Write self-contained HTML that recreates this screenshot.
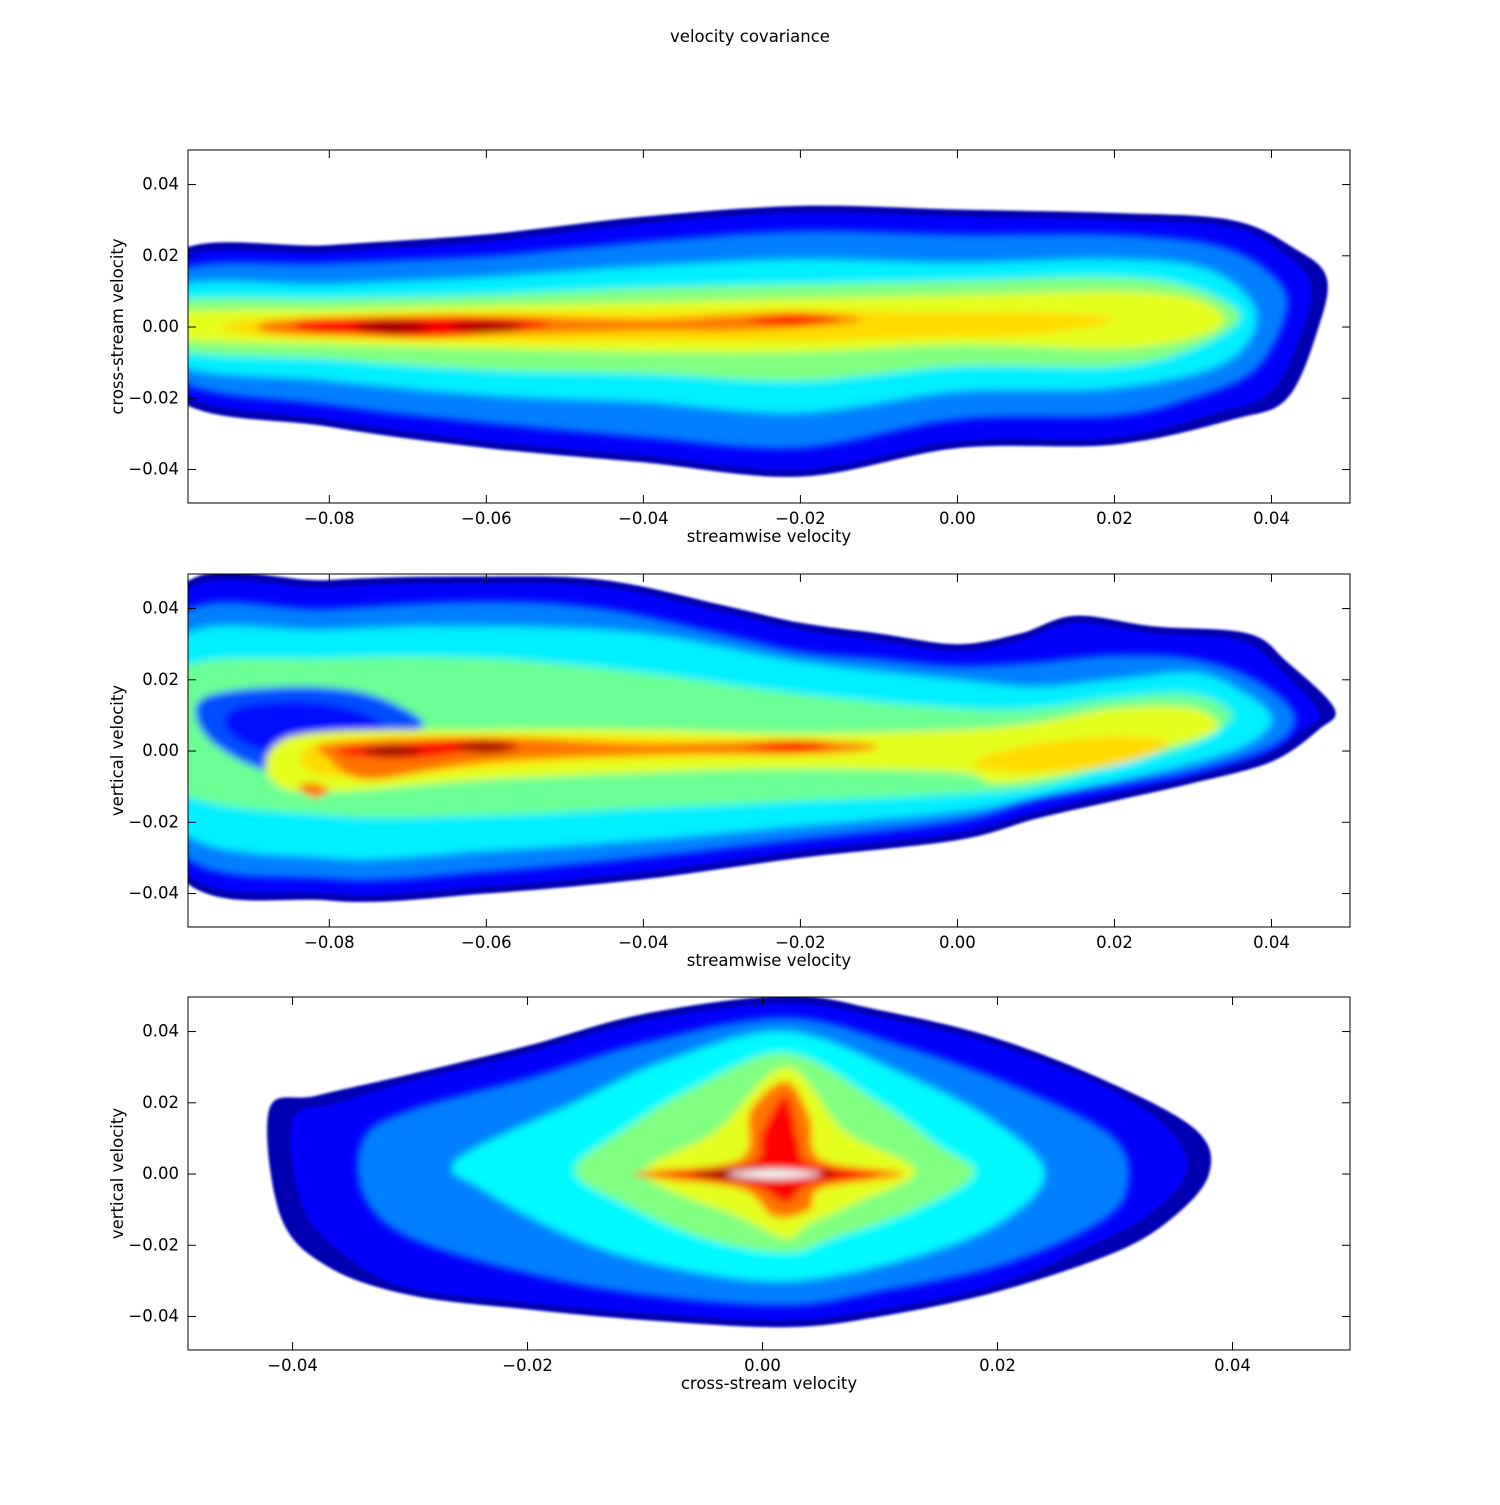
<!DOCTYPE html>
<html><head><meta charset="utf-8"><style>
html,body{margin:0;padding:0;background:#fff;}
svg text{font-family:"DejaVu Sans","Liberation Sans",sans-serif;font-size:16.5px;fill:#000;}
</style></head><body>
<svg id="fig" xmlns="http://www.w3.org/2000/svg" width="1500" height="1500" viewBox="0 0 1500 1500">
<rect width="1500" height="1500" fill="#fff"/>
<defs>
<filter id="blur" x="-10%" y="-10%" width="120%" height="120%"><feGaussianBlur stdDeviation="4"/></filter>
<filter id="blur2" x="-10%" y="-10%" width="120%" height="120%"><feGaussianBlur stdDeviation="1.2"/></filter>
</defs>
<text x="750" y="42" text-anchor="middle">velocity covariance</text>
</svg>
<script>
// ---------- data: density contour levels (jet colormap t), polygons in data coords ----------
const p1Levels = [0.05,0.12,0.25,0.36,0.5,0.6,0.66,0.76,0.87,0.87,0.97,0.97];
const p1Xs = [
 [-0.1,-0.08,-0.06,-0.04,-0.02,0,0.02,0.035,0.043,0.047,0.046,0.042,0.035,0.02,0,-0.02,-0.04,-0.06,-0.08,-0.1],
 [-0.1,-0.08,-0.06,-0.04,-0.02,0,0.02,0.035,0.042,0.045,0.044,0.040,0.033,0.02,0,-0.02,-0.04,-0.06,-0.08,-0.1],
 [-0.1,-0.08,-0.06,-0.04,-0.02,0,0.02,0.033,0.04,0.042,0.038,0.03,0.02,0,-0.02,-0.04,-0.06,-0.08,-0.1],
 [-0.1,-0.08,-0.06,-0.04,-0.02,0,0.02,0.032,0.038,0.034,0.02,0,-0.02,-0.04,-0.06,-0.08,-0.1],
 [-0.1,-0.08,-0.06,-0.04,-0.02,0,0.02,0.03,0.036,0.03,0.02,0,-0.02,-0.04,-0.06,-0.08,-0.1],
 [-0.1,-0.08,-0.06,-0.04,-0.02,0,0.02,0.03,0.034,0.03,0.02,0,-0.02,-0.04,-0.06,-0.08,-0.1],
 [-0.09,-0.06,-0.04,-0.02,-0.005,0.01,0.02,0.01,-0.005,-0.02,-0.04,-0.06,-0.09],
 [-0.086,-0.06,-0.04,-0.03,-0.02,-0.012,-0.02,-0.03,-0.04,-0.06,-0.086],
 [-0.083,-0.07,-0.06,-0.052,-0.06,-0.07,-0.083],
 [-0.027,-0.021,-0.015,-0.021],
 [-0.077,-0.072,-0.067,-0.072],
 [-0.065,-0.06,-0.055,-0.06]
];
const p1Ys = [
 [0.020,0.023,0.026,0.031,0.034,0.033,0.032,0.030,0.022,0.014,0.000,-0.020,-0.026,-0.033,-0.034,-0.042,-0.038,-0.034,-0.028,-0.019],
 [0.018,0.021,0.024,0.029,0.032,0.031,0.030,0.028,0.020,0.012,0.000,-0.018,-0.024,-0.031,-0.032,-0.040,-0.036,-0.032,-0.026,-0.017],
 [0.015,0.018,0.020,0.024,0.027,0.026,0.026,0.023,0.015,0.005,-0.012,-0.020,-0.025,-0.026,-0.034,-0.031,-0.027,-0.022,-0.014],
 [0.011,0.012,0.014,0.017,0.019,0.018,0.019,0.016,0.004,-0.010,-0.017,-0.018,-0.024,-0.021,-0.019,-0.015,-0.010],
 [0.007,0.008,0.009,0.011,0.012,0.013,0.014,0.011,0.003,-0.006,-0.011,-0.011,-0.015,-0.013,-0.012,-0.009,-0.006],
 [0.004,0.005,0.006,0.007,0.008,0.009,0.010,0.008,0.002,-0.003,-0.006,-0.005,-0.007,-0.007,-0.006,-0.005,-0.003],
 [0.002,0.004,0.004,0.005,0.004,0.004,0.002,-0.002,-0.003,-0.004,-0.004,-0.004,-0.002],
 [0.002,0.003,0.002,0.003,0.004,0.002,0.000,-0.001,-0.001,-0.002,-0.002],
 [0.002,0.003,0.003,0.001,-0.002,-0.003,-0.001],
 [0.002,0.0035,0.002,0.0005],
 [0.000,0.0018,0.000,-0.0018],
 [0.000,0.0015,0.000,-0.0015]
];

const p2Levels = [0.05,0.12,0.25,0.36,0.48,0.2,0.14,0.6,0.66,0.66,0.76,0.76,0.87,0.87,0.97,0.97];
const p2Xs = [
 [-0.1,-0.08,-0.06,-0.045,-0.03,-0.02,-0.01,0,0.008,0.015,0.025,0.037,0.042,0.048,0.046,0.04,0.03,0.02,0.01,0,-0.02,-0.04,-0.06,-0.08,-0.1],
 [-0.1,-0.08,-0.06,-0.045,-0.03,-0.02,-0.01,0,0.008,0.015,0.025,0.036,0.041,0.046,0.044,0.039,0.03,0.02,0.01,0,-0.02,-0.04,-0.06,-0.08,-0.1],
 [-0.1,-0.08,-0.06,-0.045,-0.03,-0.02,-0.01,0,0.01,0.02,0.03,0.038,0.043,0.04,0.03,0.02,0.01,0,-0.02,-0.04,-0.06,-0.08,-0.1],
 [-0.1,-0.08,-0.06,-0.04,-0.02,0,0.01,0.02,0.03,0.036,0.04,0.036,0.025,0.01,0,-0.02,-0.04,-0.06,-0.08,-0.1],
 [-0.1,-0.08,-0.06,-0.04,-0.02,0,0.01,0.02,0.03,0.035,0.03,0.02,0.01,0,-0.02,-0.04,-0.06,-0.08,-0.1],
 [-0.096,-0.085,-0.075,-0.068,-0.072,-0.078,-0.083,-0.09,-0.096],
 [-0.092,-0.084,-0.076,-0.073,-0.08,-0.088,-0.093],
 [-0.085,-0.06,-0.04,-0.02,0,0.01,0.02,0.03,0.033,0.025,0.015,0.005,0,-0.02,-0.04,-0.06,-0.085],
 [0.003,0.01,0.02,0.027,0.02,0.01,0.003],
 [-0.08,-0.05,-0.03,-0.01,-0.03,-0.05,-0.08],
 [-0.08,-0.06,-0.04,-0.02,-0.01,-0.02,-0.04,-0.06,-0.075,-0.08],
 [-0.084,-0.082,-0.080,-0.082],
 [-0.078,-0.07,-0.062,-0.056,-0.062,-0.07,-0.078],
 [-0.027,-0.021,-0.016,-0.021],
 [-0.076,-0.072,-0.068,-0.072],
 [-0.064,-0.06,-0.056,-0.06]
];
const p2Ys = [
 [0.043,0.048,0.049,0.048,0.041,0.036,0.033,0.030,0.033,0.038,0.035,0.033,0.025,0.012,0.006,-0.003,-0.009,-0.014,-0.019,-0.025,-0.030,-0.036,-0.040,-0.042,-0.032],
 [0.041,0.046,0.047,0.046,0.039,0.034,0.031,0.028,0.031,0.036,0.033,0.031,0.023,0.011,0.006,-0.001,-0.007,-0.012,-0.017,-0.023,-0.028,-0.034,-0.038,-0.040,-0.030],
 [0.036,0.040,0.042,0.040,0.033,0.028,0.026,0.024,0.025,0.027,0.026,0.020,0.010,0.001,-0.006,-0.010,-0.014,-0.020,-0.025,-0.030,-0.034,-0.036,-0.026],
 [0.030,0.034,0.035,0.033,0.025,0.020,0.018,0.020,0.022,0.017,0.009,0.001,-0.006,-0.013,-0.017,-0.021,-0.025,-0.028,-0.030,-0.020],
 [0.022,0.026,0.026,0.022,0.016,0.012,0.012,0.015,0.016,0.010,0.002,-0.004,-0.010,-0.012,-0.014,-0.016,-0.018,-0.018,-0.010],
 [0.015,0.018,0.016,0.008,0.004,-0.001,-0.007,-0.004,0.005],
 [0.012,0.014,0.011,0.005,0.002,0.000,0.006],
 [0.004,0.006,0.006,0.005,0.006,0.008,0.012,0.012,0.006,0.000,-0.006,-0.009,-0.006,-0.005,-0.006,-0.008,-0.011],
 [-0.002,0.002,0.004,0.002,-0.004,-0.006,-0.005],
 [0.003,0.004,0.003,0.002,-0.001,-0.003,-0.007],
 [0.002,0.004,0.002,0.003,0.001,-0.001,-0.001,-0.003,-0.008,-0.002],
 [-0.010,-0.009,-0.011,-0.013],
 [0.001,0.002,0.003,0.002,0.000,-0.002,-0.001],
 [0.0015,0.003,0.0015,0.0],
 [0.000,0.0016,0.000,-0.0016],
 [0.001,0.0026,0.001,-0.0005]
];

const p3Levels = [0.05,0.12,0.25,0.37,0.5,0.6,0.76,0.87,0.97,-1];
const p3Xs = [
 [0.002,0.01,0.02,0.03,0.037,0.038,0.035,0.03,0.02,0.01,0.002,-0.01,-0.02,-0.03,-0.037,-0.041,-0.042,-0.038,-0.03,-0.02,-0.01],
 [0.002,0.01,0.02,0.03,0.035,0.036,0.033,0.028,0.02,0.01,0.002,-0.01,-0.02,-0.03,-0.035,-0.039,-0.040,-0.036,-0.03,-0.02,-0.01],
 [0.002,0.012,0.022,0.03,0.031,0.028,0.02,0.01,0.002,-0.01,-0.02,-0.03,-0.034,-0.034,-0.03,-0.02,-0.01],
 [0.002,0.012,0.02,0.024,0.02,0.012,0.002,-0.008,-0.016,-0.024,-0.026,-0.016,-0.008],
 [0.002,0.01,0.015,0.018,0.013,0.006,0.002,-0.005,-0.012,-0.016,-0.012,-0.006],
 [0.002,0.007,0.013,0.008,0.004,0.002,-0.002,-0.01,-0.004],
 [0.002,0.004,0.005,0.012,0.005,0.004,0.001,-0.002,-0.011,-0.002,-0.001],
 [0.002,0.003,0.004,0.010,0.004,0.002,-0.001,-0.009,-0.001,0.000],
 [0.000,0.0065,0.000,-0.006],
 [-0.003,0.001,0.005,0.001]
];
const p3Ys = [
 [0.050,0.046,0.038,0.025,0.012,0.000,-0.012,-0.022,-0.033,-0.040,-0.043,-0.041,-0.038,-0.034,-0.026,-0.012,0.018,0.022,0.028,0.036,0.045],
 [0.048,0.044,0.036,0.023,0.011,0.000,-0.011,-0.020,-0.031,-0.038,-0.041,-0.039,-0.036,-0.032,-0.024,-0.010,0.015,0.020,0.026,0.034,0.043],
 [0.044,0.036,0.024,0.010,-0.005,-0.015,-0.026,-0.033,-0.037,-0.034,-0.028,-0.018,-0.006,0.010,0.018,0.027,0.037],
 [0.040,0.028,0.014,0.000,-0.014,-0.024,-0.030,-0.026,-0.018,-0.004,0.004,0.020,0.032],
 [0.034,0.020,0.008,0.000,-0.010,-0.018,-0.022,-0.018,-0.008,0.001,0.012,0.024],
 [0.030,0.012,0.001,-0.008,-0.014,-0.018,-0.012,0.000,0.012],
 [0.026,0.016,0.004,0.000,-0.004,-0.010,-0.012,-0.004,0.000,0.004,0.018],
 [0.022,0.010,0.003,0.000,-0.003,-0.008,-0.003,0.000,0.003,0.012],
 [0.002,0.000,-0.002,0.000],
 [0.000,0.0013,0.000,-0.0013]
];

const xTicksStream = [-0.08,-0.06,-0.04,-0.02,0.0,0.02,0.04];
const xTicksCross = [-0.04,-0.02,0.0,0.02,0.04];
const yTicks = [-0.04,-0.02,0.0,0.02,0.04];

// ---------- rendering ----------
const NS = "http://www.w3.org/2000/svg";
const fig = document.getElementById('fig');
function jet(t){
  if(t<0) return '#ffffff';
  const c=v=>Math.round(255*Math.max(0,Math.min(1,v)));
  return `rgb(${c(1.5-Math.abs(4*t-3))},${c(1.5-Math.abs(4*t-2))},${c(1.5-Math.abs(4*t-1))})`;
}
function mk(tag, attrs, parent){
  const e=document.createElementNS(NS,tag);
  for(const k in attrs) e.setAttribute(k,attrs[k]);
  (parent||fig).appendChild(e); return e;
}
function smoothPath(pts){
  const n=pts.length; let d=`M${pts[0][0].toFixed(1)},${pts[0][1].toFixed(1)}`;
  for(let i=0;i<n;i++){
    const p0=pts[(i-1+n)%n],p1=pts[i],p2=pts[(i+1)%n],p3=pts[(i+2)%n];
    const c1=[p1[0]+(p2[0]-p0[0])/6,p1[1]+(p2[1]-p0[1])/6];
    const c2=[p2[0]-(p3[0]-p1[0])/6,p2[1]-(p3[1]-p1[1])/6];
    d+=`C${c1[0].toFixed(1)},${c1[1].toFixed(1)} ${c2[0].toFixed(1)},${c2[1].toFixed(1)} ${p2[0].toFixed(1)},${p2[1].toFixed(1)}`;
  }
  return d+'Z';
}
const fmt=v=>(Math.abs(v)<1e-9?'0.00':v.toFixed(2)).replace('-','\u2212');

function panel(idx, top, xmin, xmax, levels, xs, ys, xticks, xlabel, ylabel){
  const L=188,R=1350,T=top,B=top+353, ymin=-0.0494, ymax=0.0497;
  const sx=v=>L+(v-xmin)/(xmax-xmin)*(R-L);
  const sy=v=>B-(v-ymin)/(ymax-ymin)*(B-T);
  const g=mk('g',{});
  
  
  const cp=mk('clipPath',{id:'clip'+idx},g);
  mk('rect',{x:L,y:T,width:R-L,height:B-T},cp);
  const plot=mk('g',{'clip-path':`url(#clip${idx})`},g);
  
  
  const inner=mk('g',{filter:'url(#blur)'});
  levels.forEach((lv,i)=>{
    const pts=xs[i].map((x,j)=>[sx(x),sy(ys[i][j])]);
    const parent = i<2 ? plot : inner;
    const p=mk('path',{d:smoothPath(pts),fill:jet(lv)},parent);
    if(i<2) p.setAttribute('filter','url(#blur2)');
    
    
  });
  plot.appendChild(inner);
  const fr=mk('rect',{x:L,y:T,width:R-L,height:B-T,fill:'none',stroke:'#000','stroke-width':1},g);
  
  
  xticks.forEach(v=>{
    const x=sx(v);
    mk('line',{x1:x,x2:x,y1:B,y2:B-8,stroke:'#000'},g);
    mk('line',{x1:x,x2:x,y1:T,y2:T+8,stroke:'#000'},g);
    const t=mk('text',{x:x,y:B+21,'text-anchor':'middle'},g); t.textContent=fmt(v);
    
    
  });
  yTicks.forEach(v=>{
    const y=sy(v);
    mk('line',{x1:L,x2:L+8,y1:y,y2:y,stroke:'#000'},g);
    mk('line',{x1:R,x2:R-8,y1:y,y2:y,stroke:'#000'},g);
    const t=mk('text',{x:L-9,y:y+5,'text-anchor':'end'},g); t.textContent=fmt(v);
    
    
  });
  const xl=mk('text',{x:769,y:B+39,'text-anchor':'middle'},g); xl.textContent=xlabel;
  
  
  const yc=(T+B)/2;
  const yl=mk('text',{x:123,y:yc,'text-anchor':'middle',transform:`rotate(-90 123 ${yc})`},g); yl.textContent=ylabel;
  
  
}
panel(1,150,-0.098,0.05,p1Levels,p1Xs,p1Ys,xTicksStream,'streamwise velocity','cross-stream velocity');
panel(2,574,-0.098,0.05,p2Levels,p2Xs,p2Ys,xTicksStream,'streamwise velocity','vertical velocity');
panel(3,997,-0.0489,0.05,p3Levels,p3Xs,p3Ys,xTicksCross,'cross-stream velocity','vertical velocity');
</script>
</body></html>
